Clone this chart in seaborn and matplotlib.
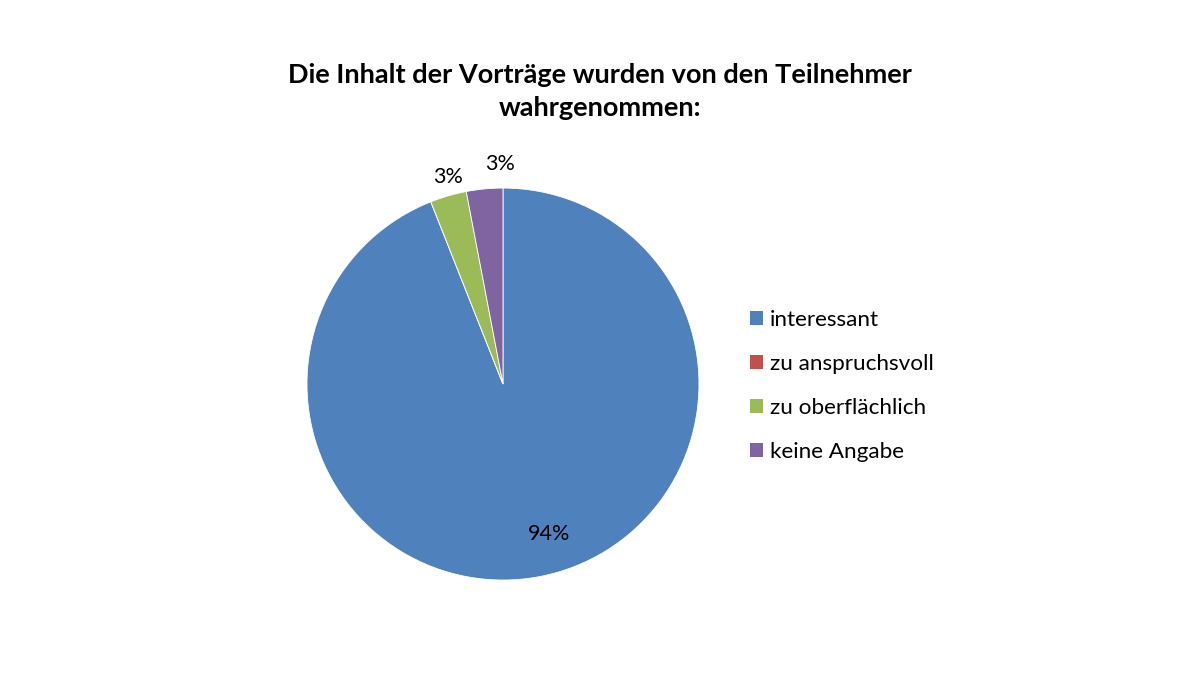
import matplotlib
matplotlib.use("Agg")
import matplotlib.pyplot as plt
import seaborn as sns
import numpy as np

categories = ["interessant", "zu anspruchsvoll", "zu oberflächlich", "keine Angabe"]
values = [94, 0, 3, 3]
colors = ["#4F81BD", "#C0504D", "#9BBB59", "#8064A2"]
title = "Die Inhalt der Vorträge wurden von den Teilnehmer\nwahrgenommen:"

sns.set_theme(style="white")
plt.rcParams["font.family"] = ["Lato", "DejaVu Sans"]

fig = plt.figure(figsize=(12, 6.75), dpi=100)
fig.patch.set_facecolor("white")
ax = fig.add_axes([0.2558, 0.1407, 0.3267, 0.5807])

wedges, texts = ax.pie(values, colors=colors, startangle=90, counterclock=False,
                       radius=1, wedgeprops=dict(edgecolor="white", linewidth=0.6))
ax.set_xlim(-1, 1)
ax.set_ylim(-1, 1)
ax.set_aspect("equal")
ax.axis("off")

# label placement (distance from centre, horizontal nudge) per slice
label_place = [(0.78, 0.09), (1.1, 0.0), (1.1, 0.025), (1.13, 0.09)]

total = sum(values)
for w, v, (d, dx) in zip(wedges, values, label_place):
    if v == 0:
        continue
    mid = np.deg2rad((w.theta1 + w.theta2) / 2)
    pct = f"{round(100 * v / total)}%"
    ax.text(d * np.cos(mid) + dx, d * np.sin(mid), pct, ha="center", va="center",
            fontsize=15.5, color="black")

fig.text(0.5, 0.865, title, ha="center", va="center", fontsize=19.5, fontweight="bold",
         linespacing=1.45, color="black")

handles = [plt.Rectangle((0, 0), 1, 1, facecolor=c, edgecolor="none") for c in colors]
fig.legend(handles, categories, loc="center left", bbox_to_anchor=(0.608, 0.428),
           frameon=False, fontsize=16.2, handlelength=0.6, handleheight=0.6,
           handletextpad=0.3, labelspacing=1.07, labelcolor="black")

fig.savefig("out.png", dpi=100, facecolor="white")
